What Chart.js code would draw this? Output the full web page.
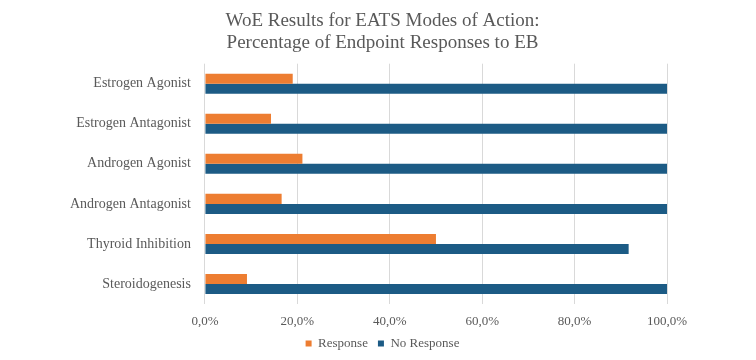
<!DOCTYPE html>
<html>
<head>
<meta charset="utf-8">
<script src="https://cdn.jsdelivr.net/npm/chart.js@4"></script>
<style>
  html, body { margin: 0; padding: 0; background: #fff; }
  #wrap { width: 756px; height: 360px; }
</style>
</head>
<body>
<div id="wrap"><canvas id="myChart"></canvas></div>
<script>
const categories = [
  "Estrogen Agonist",
  "Estrogen Antagonist",
  "Androgen Agonist",
  "Androgen Antagonist",
  "Thyroid Inhibition",
  "Steroidogenesis",
]
const responseValues = [19.0, 14.3, 21.1, 16.6, 50.0, 9.1]
const noResponseValues = [100, 100, 100, 100, 91.7, 100]
const xTicks = [0, 20, 40, 60, 80, 100]

const textColor = "#595959"
const fontFamily = "'Liberation Serif', 'Times New Roman', serif"

// title and legend sit centred on the canvas, not on the padded area
const shiftHeader = {
  id: "shiftHeader",
  afterLayout(chart) {
    const dx = 17
    for (const box of [chart.titleBlock, chart.legend]) {
      if (!box) continue
      box.left += dx
      box.right += dx
    }
  },
}

const ctx = document.getElementById("myChart").getContext("2d")
new Chart(ctx, {
  type: "bar",
  data: {
    labels: categories,
    datasets: [
      {
        label: "Response",
        data: responseValues,
        backgroundColor: "#ED7D31",
        categoryPercentage: 0.5,
        barPercentage: 1,
      },
      {
        label: "No Response",
        data: noResponseValues,
        backgroundColor: "#1C5B85",
        categoryPercentage: 0.5,
        barPercentage: 1,
      },
    ],
  },
  plugins: [shiftHeader],
  options: {
    indexAxis: "y",
    responsive: true,
    maintainAspectRatio: false,
    animation: false,
    layout: { padding: { left: 64, right: 89, top: 6, bottom: 0 } },
    plugins: {
      title: {
        display: true,
        text: ["WoE Results for EATS Modes of Action:", "Percentage of Endpoint Responses to EB"],
        color: textColor,
        font: { family: fontFamily, size: 19, weight: "normal", lineHeight: 1.15 },
        padding: { top: 4, bottom: 10 },
      },
      legend: {
        position: "bottom",
        labels: {
          color: textColor,
          font: { family: fontFamily, size: 13 },
          boxWidth: 6,
          boxHeight: 6,
          padding: 10,
        },
      },
      tooltip: { enabled: false },
    },
    scales: {
      x: {
        min: 0,
        max: 100,
        afterBuildTicks: (axis) => {
          axis.ticks = xTicks.map((v) => ({ value: v }))
        },
        afterFit: (scale) => {
          scale.height = 23
        },
        ticks: {
          color: textColor,
          font: { family: fontFamily, size: 13, lineHeight: 1 },
          padding: 11,
          callback: (v) => v.toFixed(1).replace(".", ",") + "%",
        },
        grid: { color: "#D9D9D9", drawTicks: false },
        border: { display: false },
      },
      y: {
        ticks: {
          color: textColor,
          font: { family: fontFamily, size: 14 },
          padding: 6,
        },
        grid: { display: false },
        border: { display: false },
      },
    },
  },
})
</script>
</body>
</html>
